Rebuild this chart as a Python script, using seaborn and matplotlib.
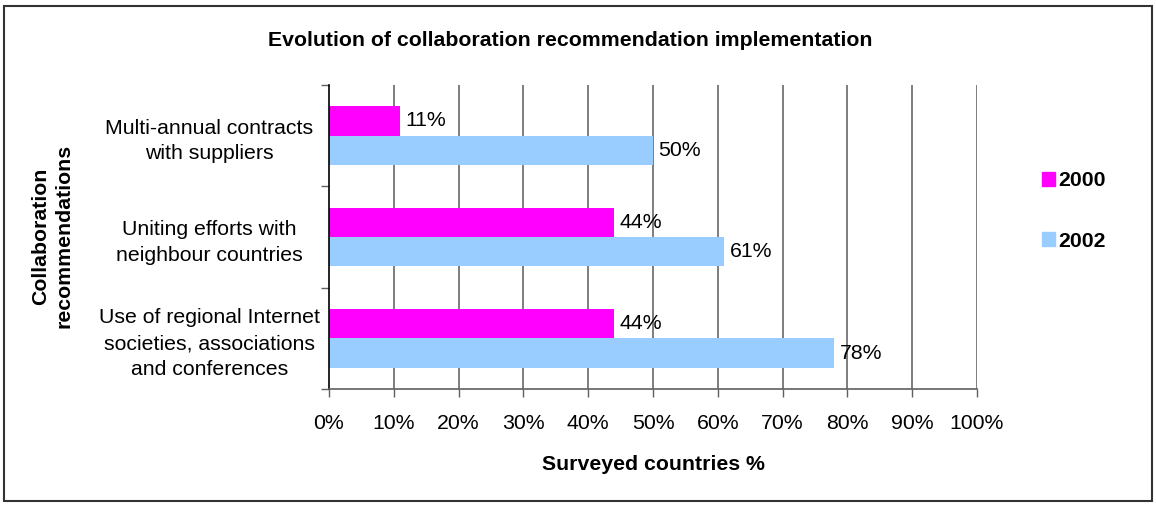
import matplotlib
matplotlib.use("Agg")
import matplotlib.pyplot as plt
import matplotlib.patches as mpatches
import seaborn as sns
import pandas as pd

categories = [
    "Multi-annual contracts\nwith suppliers",
    "Uniting efforts with\nneighbour countries",
    "Use of regional Internet\nsocieties, associations\nand conferences",
]
years = ["2000", "2002"]
values_2000 = [11, 44, 44]
values_2002 = [50, 61, 78]
colors = {"2000": "#FF00FF", "2002": "#99CCFF"}

df = pd.DataFrame({
    "category": categories * 2,
    "year": [years[0]] * 3 + [years[1]] * 3,
    "value": values_2000 + values_2002,
})

FS = 15.3
W, H = 1156, 505

sns.set_theme(style="white")
plt.rcParams["font.family"] = ["Liberation Sans", "DejaVu Sans"]
plt.rcParams["text.color"] = "black"
plt.rcParams["xtick.color"] = "black"
plt.rcParams["ytick.color"] = "black"
plt.rcParams["axes.labelcolor"] = "black"

fig = plt.figure(figsize=(W / 100, H / 100), dpi=100)
ax = fig.add_axes([329 / W, 1 - 389 / H, (977 - 329) / W, (389 - 85) / H])

sns.barplot(data=df, x="value", y="category", hue="year", order=categories,
            hue_order=years, palette=colors, orient="h", width=0.58,
            saturation=1, ax=ax, legend=False, edgecolor="none")

ax.set_xlim(0, 100)
ax.set_ylim(2.5, -0.5)
ax.set_xticks(range(0, 101, 10))
ax.set_xticklabels([f"{v}%" for v in range(0, 101, 10)], fontsize=FS)
ax.tick_params(axis="x", direction="out", length=6, width=1, color="#606060",
               bottom=True, pad=12)
ax.set_yticks(range(len(categories)))
ax.set_yticklabels(categories, fontsize=FS, ha="center", linespacing=1.45)
ax.tick_params(axis="y", which="major", length=0, pad=86)
ax.set_yticks([-0.5, 0.5, 1.5, 2.5], minor=True)
ax.tick_params(axis="y", which="minor", direction="out", length=6, width=1,
               color="#606060", left=True)

for x in range(10, 101, 10):
    ax.axvline(x, color="#5a5a5a", lw=1.1, zorder=0)

for sp in ["top", "right"]:
    ax.spines[sp].set_visible(False)
ax.spines["left"].set_color("black")
ax.spines["left"].set_linewidth(1.2)
ax.spines["bottom"].set_color("#606060")
ax.spines["bottom"].set_linewidth(1.2)

for cont in ax.containers:
    ax.bar_label(cont, labels=[f"{v:.0f}%" for v in cont.datavalues],
                 padding=4, fontsize=FS)

ax.set_xlabel("")
ax.set_ylabel("")
fig.text(653 / W, 1 - 465 / H, "Surveyed countries %", fontsize=FS,
         fontweight="bold", ha="center", va="center")
fig.text(52 / W, 1 - 236 / H, "Collaboration\nrecommendations", fontsize=FS,
         fontweight="bold", ha="center", va="center", rotation=90,
         multialignment="center", linespacing=1.3)
fig.text(570 / W, 1 - 41 / H,
         "Evolution of collaboration recommendation implementation",
         fontsize=FS, fontweight="bold", ha="center", va="center")

handles = [mpatches.Patch(color=colors[y], label=y) for y in years]
fig.legend(handles=handles, loc="center left",
           bbox_to_anchor=(1023 / W, 1 - 211 / H),
           frameon=False, prop={"size": FS, "weight": "bold"},
           handlelength=0.62, handleheight=0.62, handletextpad=0.15,
           labelspacing=1.94)

fig.patches.append(mpatches.Rectangle((4 / W, 4 / H), 1148 / W, 495 / H,
                                      transform=fig.transFigure, fill=False,
                                      edgecolor="#333333", lw=1.5))

fig.savefig("out.png", dpi=100, facecolor="white")
